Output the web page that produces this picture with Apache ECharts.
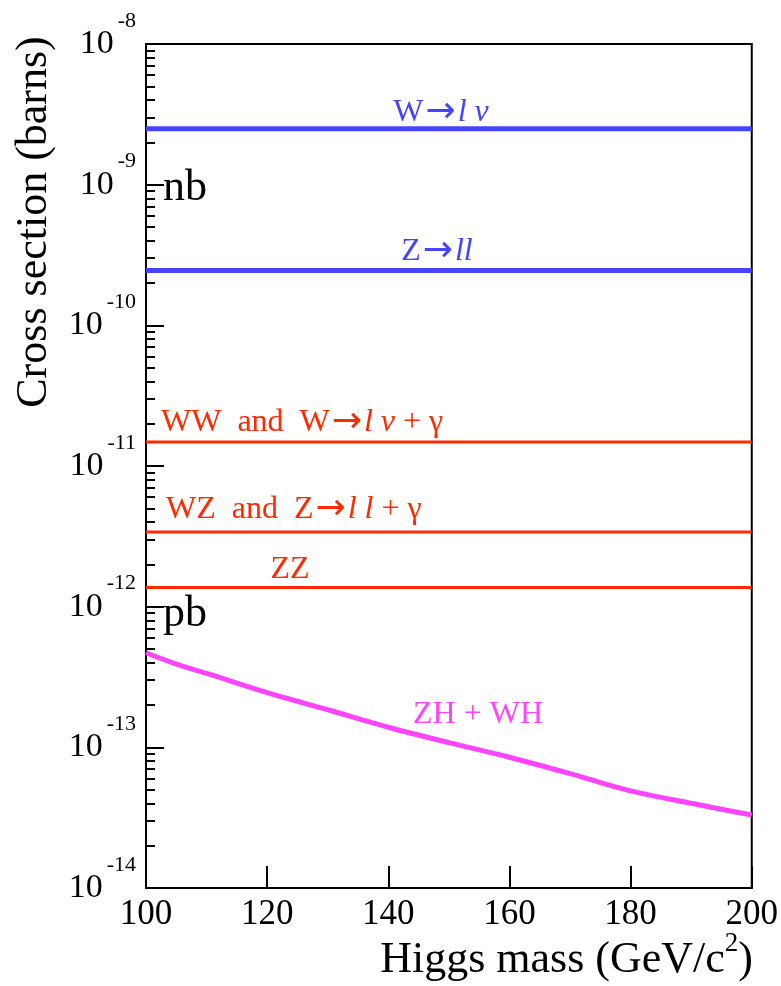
<!DOCTYPE html>
<html><head><meta charset="utf-8">
<script src="https://cdn.jsdelivr.net/npm/echarts@6/dist/echarts.min.js"></script>
<style>html,body{margin:0;padding:0;background:#fff}#c{width:781px;height:986px}</style>
</head><body><div id="c"></div>
<script>
// ---- data ----
const higgsMass = [100, 105, 110, 120, 130, 140, 150, 160, 170, 180, 190, 200];
const zhwhXsec  = [4.7e-13, 3.9e-13, 3.35e-13, 2.45e-13, 1.85e-13, 1.39e-13, 1.08e-13, 8.5e-14, 6.5e-14, 4.9e-14, 4.0e-14, 3.3e-14];
const bgNames   = ['W→lν', 'Z→ll', 'WW and W→lν + γ', 'WZ and Z→ll + γ', 'ZZ'];
const bgXsec    = [2.5e-9, 2.45e-10, 1.48e-11, 3.4e-12, 1.37e-12];
const xRange    = [100, 200];
const xTickStep = 20;
const yDecades  = [1e-14, 1e-13, 1e-12, 1e-11, 1e-10, 1e-9, 1e-8];
const minorMult = [2, 3, 4, 5, 6, 7, 8, 9];

// ---- styles ----
const BLUE = '#4444ff', RED = '#ff2a00', MAG = '#ff44ff';
const SERIF = '"Liberation Serif", "DejaVu Serif", serif';
const SANS = '"DejaVu Sans", sans-serif';
const bgColors = [BLUE, BLUE, RED, RED, RED];
const bgWidths = [5, 5, 3, 3, 3];

const minorTicks = [];
for (let i = 0; i < yDecades.length - 1; i++) {
  minorMult.forEach(m => minorTicks.push(+(m * yDecades[i]).toPrecision(3)));
}

const chart = echarts.init(document.getElementById('c'), null, {renderer: 'canvas'});

const series = bgXsec.map((v, i) => ({
  name: bgNames[i], type: 'line', yAxisIndex: 0,
  data: [[xRange[0], v], [xRange[1], v]],
  symbol: 'none', lineStyle: {color: bgColors[i], width: bgWidths[i]}, z: 3
}));
series.push({
  name: 'ZH + WH', type: 'line', yAxisIndex: 0,
  data: higgsMass.map((m, i) => [m, zhwhXsec[i]]),
  smooth: 0.3, symbol: 'none', lineStyle: {color: MAG, width: 5}, z: 3
});

const txt = (x, y, text, color, size, align, rich) => ({
  type: 'text', x: x, y: y, z: 10,
  style: {text: text, fill: color, fontFamily: SERIF, fontSize: size,
    align: align || 'left', verticalAlign: 'middle', rich: rich || {}}
});
const ital = (color, size) => ({
  i: {fontStyle: 'italic', fill: color, fontFamily: SERIF, fontSize: size},
  a: {fill: color, fontFamily: SANS, fontSize: size + 4, padding: [0, 2, 0, 2]}
});

chart.setOption({
  animation: false,
  backgroundColor: '#fff',
  grid: {left: 146, right: 28, top: 44, bottom: 98, show: true, borderColor: '#000', borderWidth: 2},
  xAxis: {
    type: 'value', min: xRange[0], max: xRange[1], interval: xTickStep,
    axisLine: {lineStyle: {color: '#000', width: 2}},
    axisTick: {inside: true, length: 22, lineStyle: {color: '#000', width: 2}},
    axisLabel: {color: '#000', fontFamily: SERIF, fontSize: 35, margin: 9},
    splitLine: {show: false}
  },
  yAxis: [{
    type: 'log', logBase: 10, min: yDecades[0], max: yDecades[yDecades.length - 1],
    axisLine: {lineStyle: {color: '#000', width: 2}},
    axisTick: {inside: true, length: 18, customValues: yDecades, lineStyle: {color: '#000', width: 2}},
    axisLabel: {
      customValues: yDecades, margin: 10, color: '#000',
      formatter: v => '{b|10}{e|' + Math.round(Math.log10(v)) + '}',
      rich: {b: {fontFamily: SERIF, fontSize: 34, color: '#000'},
             e: {fontFamily: SERIF, fontSize: 22, color: '#000', padding: [0, 0, 46, 4]}}
    },
    splitLine: {show: false}
  }, {
    type: 'log', logBase: 10, min: yDecades[0], max: yDecades[yDecades.length - 1], position: 'left',
    axisLine: {show: false},
    axisTick: {inside: true, length: 9, customValues: minorTicks, lineStyle: {color: '#000', width: 2}},
    axisLabel: {show: false}, splitLine: {show: false}
  }],
  series: series,
  graphic: [
    txt(441, 113, 'W{a|→}{i|l ν}', BLUE, 32, 'center', ital(BLUE, 32)),
    txt(437, 252, 'Z{a|→}{i|ll}', BLUE, 32, 'center', ital(BLUE, 32)),
    txt(161, 423, 'WW  and  W{a|→}{i|l ν} + γ', RED, 32, 'left', ital(RED, 32)),
    txt(166, 510, 'WZ  and  Z{a|→}{i|l l} + γ', RED, 32, 'left', ital(RED, 32)),
    txt(290, 570, 'ZZ', RED, 32, 'center'),
    txt(478, 715, 'ZH + WH', MAG, 32, 'center'),
    txt(163, 188, 'nb', '#000', 44, 'left'),
    txt(163, 614, 'pb', '#000', 44, 'left'),
    txt(753, 960, 'Higgs mass (GeV/c{s|2})', '#000', 44, 'right',
        {s: {fontFamily: SERIF, fontSize: 27, fill: '#000', padding: [0, 0, 32, 0]}}),
    {type: 'text', x: 34, y: 222, rotation: Math.PI / 2, z: 10,
     style: {text: 'Cross section (barns)', fill: '#000', fontFamily: SERIF, fontSize: 44,
       align: 'center', verticalAlign: 'middle'}}
  ]
});
</script></body></html>
